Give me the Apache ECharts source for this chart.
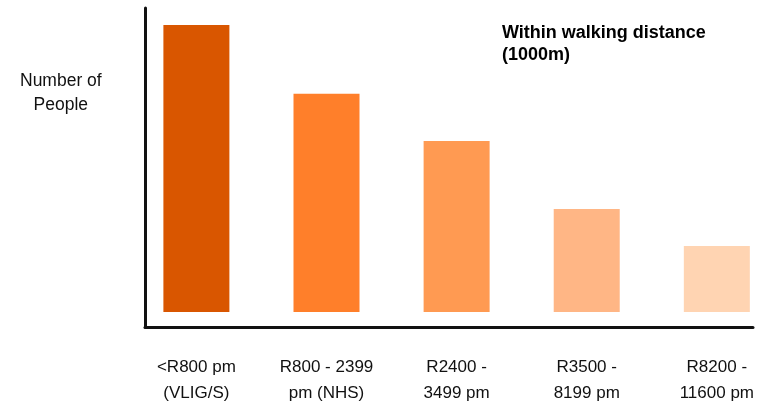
<!DOCTYPE html>
<html><head><meta charset="utf-8">
<script src="https://cdn.jsdelivr.net/npm/echarts@6/dist/echarts.min.js"></script>
<style>html,body{margin:0;padding:0;background:#fff}#c{width:758px;height:403px}</style>
</head><body><div id="c"></div>
<script>
const categories = ["<R800 pm\n(VLIG/S)", "R800 - 2399\npm (NHS)", "R2400 -\n3499 pm", "R3500 -\n8199 pm", "R8200 -\n11600 pm"];
const values = [100, 76, 59.6, 35.9, 23];
const barColors = ["#D95600", "#FF7F2A", "#FF9A52", "#FFB685", "#FFD4B2"];
const yTitle = "Number of\nPeople";
const note = "Within walking distance\n(1000m)";

const chart = echarts.init(document.getElementById('c'), null, {renderer: 'canvas'});
chart.setOption({
  animation: false,
  backgroundColor: '#fff',
  grid: {left: 145, right: 5, top: 8, bottom: 76, outerBoundsMode: 'none', containLabel: false},
  graphic: [
    {type: 'text', left: 20, top: 69, style: {text: yTitle, font: '17.5px "Liberation Sans", Arial, sans-serif', fill: '#111', lineHeight: 24, align: 'center', textAlign: 'center'}},
    {type: 'text', left: 502, top: 22, style: {text: note, font: 'bold 18px "Liberation Sans", Arial, sans-serif', fill: '#000', lineHeight: 22}}
  ],
  xAxis: {
    type: 'value', min: -0.395, max: 4.278,
    axisLine: {show: true, onZero: false, lineStyle: {color: '#111', width: 3}},
    axisTick: {show: false},
    splitLine: {show: false},
    axisLabel: {
      customValues: [0, 1, 2, 3, 4],
      formatter: v => categories[Math.round(v)] || '',
      color: '#111', fontSize: 17, lineHeight: 26, margin: 27,
      fontFamily: '"Liberation Sans", Arial, sans-serif'
    }
  },
  yAxis: {
    type: 'value', min: -5.23, max: 105.9,
    axisLine: {show: true, onZero: false, lineStyle: {color: '#111', width: 3}},
    axisTick: {show: false}, axisLabel: {show: false}, splitLine: {show: false}
  },
  series: [{
    type: 'bar', barWidth: 66,
    data: values.map((v, i) => ({value: [i, v], itemStyle: {color: barColors[i]}}))
  }]
});
</script></body></html>
